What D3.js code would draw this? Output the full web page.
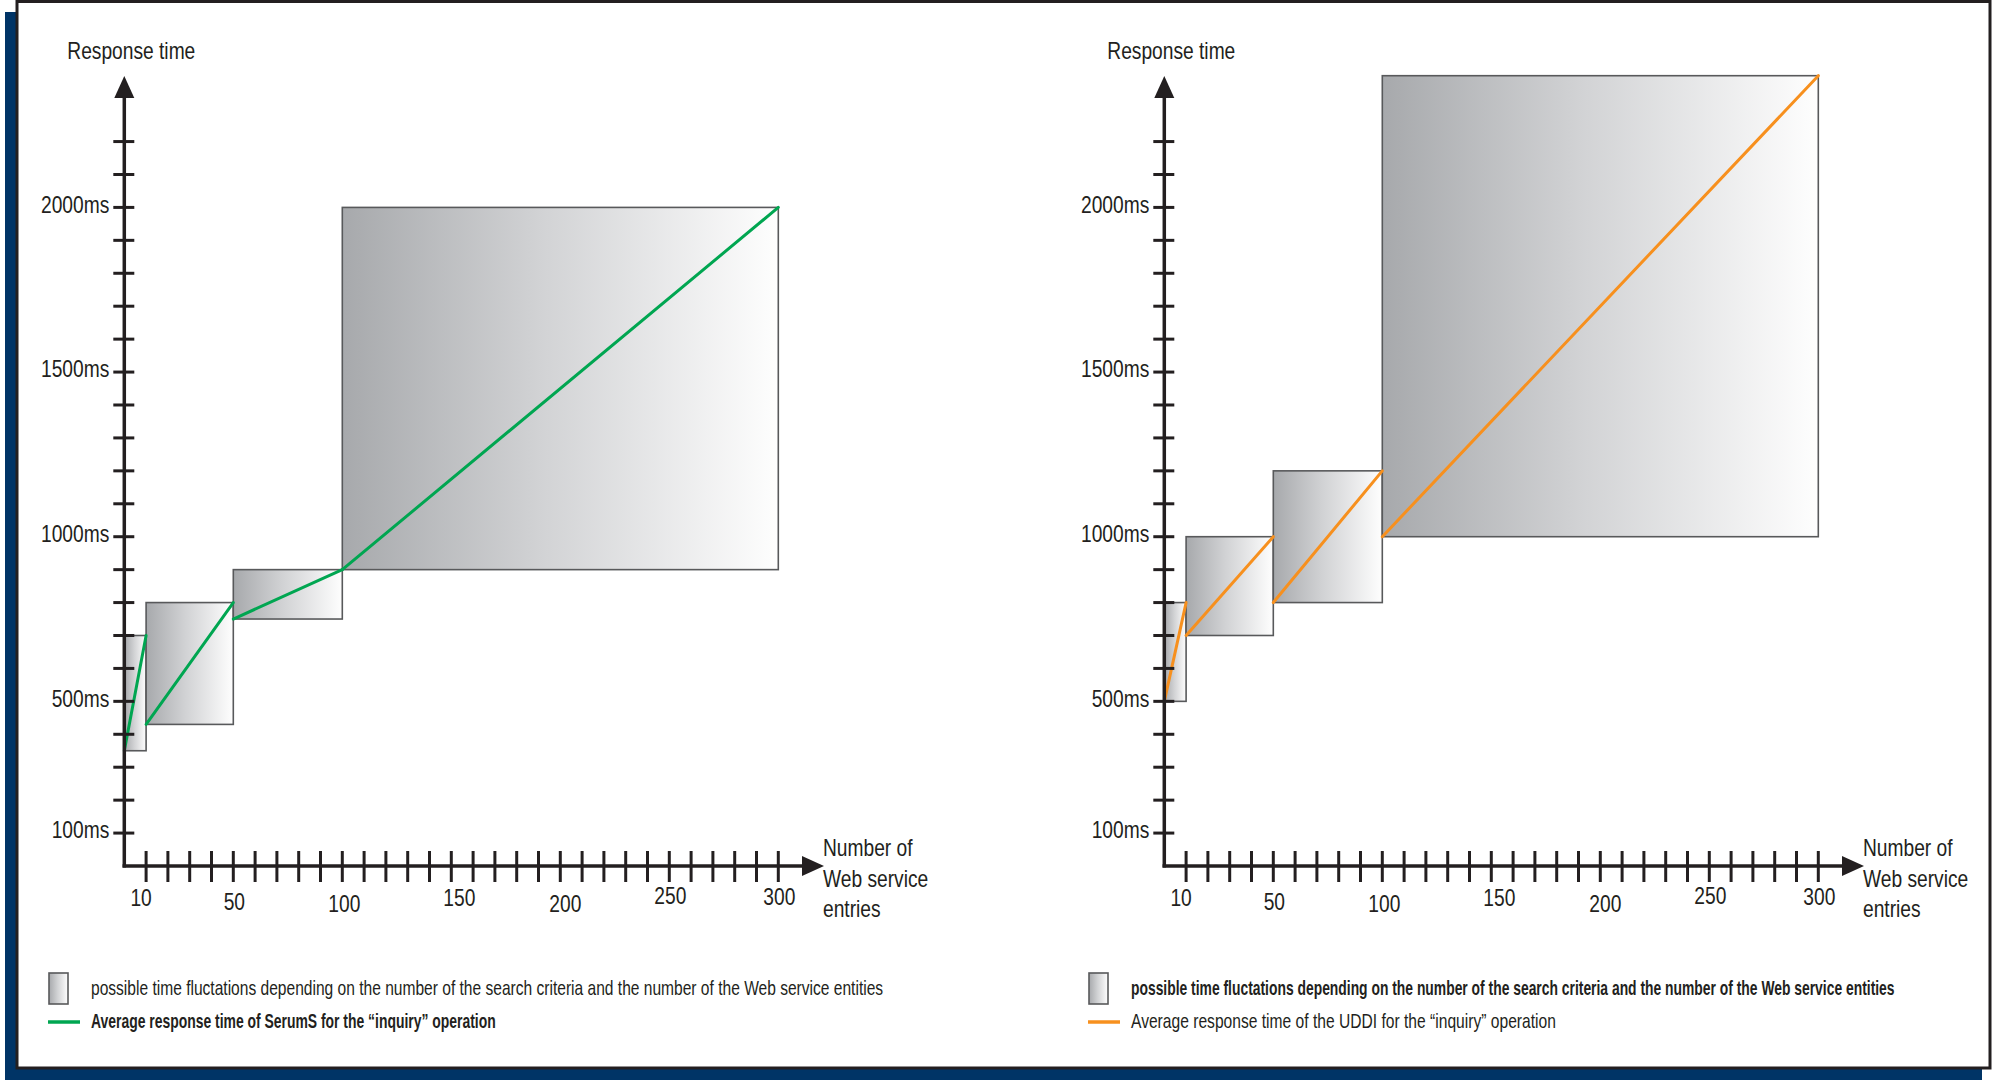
<!DOCTYPE html>
<html>
<head>
<meta charset="utf-8">
<script src="https://cdn.jsdelivr.net/npm/d3@7/dist/d3.min.js"></script>
<style>
  html, body { margin: 0; padding: 0; background: #ffffff; }
  svg { display: block; }
  text { font-family: "Liberation Sans", Arial, sans-serif; fill: #231f20; }
</style>
</head>
<body>
<svg id="chart" width="2000" height="1080"></svg>
<script>
// ---------- data ----------
const boxStart = [0, 10, 50, 100];          // number of Web service entries (start of range)
const boxEnd   = [10, 50, 100, 300];        // end of range
const serumsLow  = [350, 430, 750, 900];    // ms
const serumsHigh = [700, 800, 900, 2000];   // ms
const uddiLow    = [500, 700, 800, 1000];   // ms
const uddiHigh   = [800, 1000, 1200, 2400]; // ms
const xTickLabels = [10, 50, 100, 150, 200, 250, 300];
const yTickLabels = [100, 500, 1000, 1500, 2000];
const yAxisTitle = "Response time";
const xAxisTitle = ["Number of", "Web service", "entries"];
const legendBoxText = "possible time fluctations depending on the number of the search criteria and the number of the Web service entities";
const legendSerums = "Average response time of SerumS for the \u201Cinquiry\u201D operation";
const legendUddi = "Average response time of the UDDI for the \u201Cinquiry\u201D operation";

// ---------- style ----------
const svg = d3.select("#chart");
const INK = "#231f20";
const NARROW = 0.8;
// hand-placed nudges of the x tick labels (pixels), as in the original artwork
const xLabelNudge = { 10: [-5, -3], 50: [1, 1], 100: [2, 3], 150: [8, -3], 200: [5, 3], 250: [1, -5], 300: [1, -4] };

svg.append("rect").attr("x", 5).attr("y", 12).attr("width", 1977).attr("height", 1068).attr("fill", "#003466");
svg.append("rect").attr("x", 17).attr("y", 1.5).attr("width", 1973).attr("height", 1066.5)
  .attr("fill", "#ffffff").attr("stroke", INK).attr("stroke-width", 3);

const defs = svg.append("defs");
const grad = defs.append("linearGradient").attr("id", "boxGrad")
  .attr("x1", "0%").attr("x2", "100%").attr("y1", "0%").attr("y2", "0%");
grad.append("stop").attr("offset", "0%").attr("stop-color", "#a7a9ac");
grad.append("stop").attr("offset", "45%").attr("stop-color", "#d1d2d4");
grad.append("stop").attr("offset", "100%").attr("stop-color", "#fefefe");

// condensed text helper (narrow typeface emulated by horizontal scaling)
function ntext(parent, x, y, str, size, anchor, weight, targetWidth) {
  const t = parent.append("text")
    .attr("x", 0).attr("y", 0)
    .attr("text-anchor", anchor || "start")
    .attr("dominant-baseline", "central")
    .attr("font-size", size)
    .attr("font-weight", weight || "normal")
    .text(str);
  let s = NARROW;
  if (targetWidth) {
    const w = t.node().getComputedTextLength();
    if (w > 0) s = targetWidth / w;
  }
  t.attr("transform", `translate(${x},${y}) scale(${s},1)`);
  return t;
}

function drawChart(offsetX, low, high, lineColor, legendText, boldFirst, w1, w2) {
  const g = svg.append("g").attr("transform", `translate(${offsetX},0)`);
  const x = d3.scaleLinear().domain([0, 300]).range([124.3, 778.3]);
  const y = d3.scaleLinear().domain([0, 2400]).range([866, 75.7]);

  // boxes
  const boxes = boxStart.map((s, i) => ({ s, e: boxEnd[i], lo: low[i], hi: high[i] }));
  g.selectAll("rect.box").data(boxes).enter().append("rect")
    .attr("class", "box")
    .attr("x", d => x(d.s)).attr("y", d => y(d.hi))
    .attr("width", d => x(d.e) - x(d.s)).attr("height", d => y(d.lo) - y(d.hi))
    .attr("fill", "url(#boxGrad)").attr("stroke", "#58595b").attr("stroke-width", 1.6);

  // average lines
  g.selectAll("line.avg").data(boxes).enter().append("line")
    .attr("class", "avg")
    .attr("x1", d => x(d.s)).attr("y1", d => y(d.lo))
    .attr("x2", d => x(d.e)).attr("y2", d => y(d.hi))
    .attr("stroke", lineColor).attr("stroke-width", 3).attr("stroke-linecap", "round");

  // y axis
  const yMinor = y.ticks(24).filter(v => v >= 100 && v <= 2200);
  g.selectAll("line.yt").data(yMinor).enter().append("line")
    .attr("x1", x(0) - 11).attr("x2", x(0) + 10)
    .attr("y1", d => y(d)).attr("y2", d => y(d))
    .attr("stroke", INK).attr("stroke-width", 3);
  g.append("line").attr("x1", x(0)).attr("x2", x(0)).attr("y1", 867.5).attr("y2", 95)
    .attr("stroke", INK).attr("stroke-width", 3.5);
  g.append("path")
    .attr("d", `M${x(0)},76 L${x(0) - 10},98 L${x(0) + 10},98 Z`).attr("fill", INK);
  yTickLabels.forEach(d => ntext(g, x(0) - 15, y(d) - 3, d + "ms", 24, "end"));
  ntext(g, x(0) + 7, 51, yAxisTitle, 24, "middle");

  // x axis
  const xMinor = x.ticks(30).filter(v => v >= 10 && v <= 300);
  g.selectAll("line.xt").data(xMinor).enter().append("line")
    .attr("x1", d => x(d)).attr("x2", d => x(d))
    .attr("y1", 851).attr("y2", 882)
    .attr("stroke", INK).attr("stroke-width", 3);
  g.append("line").attr("x1", x(0) - 1.75).attr("x2", 806).attr("y1", 866).attr("y2", 866)
    .attr("stroke", INK).attr("stroke-width", 3.5);
  g.append("path")
    .attr("d", `M824,866 L802,856 L802,876 Z`).attr("fill", INK);
  xTickLabels.forEach(d => {
    const n = xLabelNudge[d] || [0, 0];
    ntext(g, x(d) + n[0], 901 + n[1], String(d), 24, "middle");
  });
  xAxisTitle.forEach((d, i) => ntext(g, 823, 848 + i * 30.5, d, 24, "start"));

  // legend
  g.append("rect").attr("x", 49).attr("y", 973).attr("width", 19).attr("height", 31)
    .attr("fill", "url(#boxGrad)").attr("stroke", "#58595b").attr("stroke-width", 1.6);
  ntext(g, 91, 988, legendBoxText, 20, "start", boldFirst ? "bold" : "normal", w1);
  g.append("line").attr("x1", 48).attr("x2", 80).attr("y1", 1022).attr("y2", 1022)
    .attr("stroke", lineColor).attr("stroke-width", 3.5);
  ntext(g, 91, 1021, legendText, 20, "start", boldFirst ? "normal" : "bold", w2);
}

drawChart(0, serumsLow, serumsHigh, "#00a651", legendSerums, false, 793, 405);
drawChart(1040, uddiLow, uddiHigh, "#f7901e", legendUddi, true, 764, 425);
</script>
</body>
</html>
